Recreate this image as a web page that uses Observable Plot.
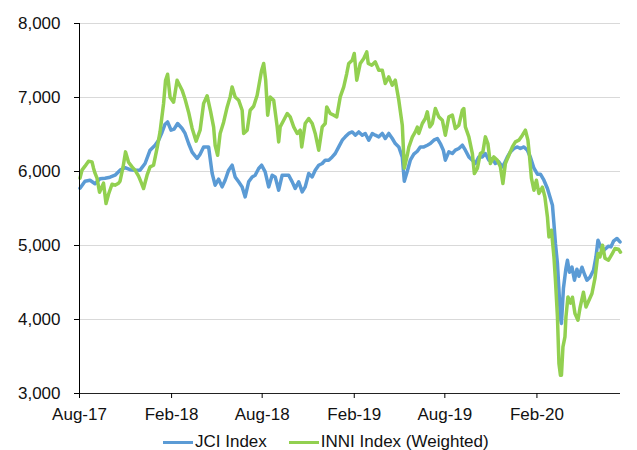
<!DOCTYPE html>
<html>
<head>
<meta charset="utf-8">
<script src="https://cdn.jsdelivr.net/npm/d3@7"></script>
<script src="https://cdn.jsdelivr.net/npm/@observablehq/plot@0.6"></script>
<style>
  html, body { margin: 0; padding: 0; background: #fff; }
  body { font-family: "Liberation Sans", Arial, sans-serif; }
  #wrap { position: relative; width: 637px; height: 450px; overflow: hidden; }
  #legend { position: absolute; left: 163px; top: 432px; height: 20px; display: flex; align-items: center;
            font-size: 17px; color: #111; white-space: nowrap; }
  .sw { display: inline-block; width: 30px; height: 3px; margin-right: 2px; }
  .item { display: flex; align-items: center; }
</style>
</head>
<body>
<div id="wrap">
  <div id="chart"></div>
  <div id="legend"></div>
</div>
<script>
// ---- Data ----
const seriesNames = ["JCI Index", "INNI Index (Weighted)"];
const seriesColors = ["#5B9BD5", "#92D050"];

const jciDates = ["2017-08-02","2017-08-12","2017-08-22","2017-09-01","2017-09-11","2017-09-21","2017-10-01","2017-10-11","2017-10-21","2017-10-31",
"2017-11-10","2017-11-20","2017-11-30","2017-12-10","2017-12-20","2017-12-30","2018-01-06","2018-01-13","2018-01-19","2018-01-24",
"2018-01-31","2018-02-06","2018-02-13","2018-02-22","2018-02-28","2018-03-07","2018-03-14","2018-03-24","2018-03-30","2018-04-06",
"2018-04-16","2018-04-23","2018-04-29","2018-05-06","2018-05-13","2018-05-19","2018-05-26","2018-06-02","2018-06-08","2018-06-15",
"2018-06-22","2018-06-28","2018-07-05","2018-07-12","2018-07-18","2018-07-25","2018-07-31","2018-08-07","2018-08-14","2018-08-21",
"2018-08-27","2018-09-03","2018-09-10","2018-09-16","2018-09-23","2018-09-30","2018-10-06","2018-10-13","2018-10-20","2018-10-26",
"2018-11-02","2018-11-09","2018-11-15","2018-11-22","2018-11-29","2018-12-05","2018-12-12","2018-12-19","2018-12-25","2019-01-01",
"2019-01-08","2019-01-14","2019-01-21","2019-01-28","2019-02-03","2019-02-10","2019-02-17","2019-02-23","2019-03-02","2019-03-09",
"2019-03-15","2019-03-22","2019-03-29","2019-04-04","2019-04-11","2019-04-18","2019-04-24","2019-05-01","2019-05-08","2019-05-12",
"2019-05-18","2019-05-24","2019-05-31","2019-06-07","2019-06-13","2019-06-20","2019-06-27","2019-07-03","2019-07-10","2019-07-17",
"2019-07-23","2019-07-29","2019-08-02","2019-08-09","2019-08-16","2019-08-22","2019-08-29","2019-09-05","2019-09-11","2019-09-18",
"2019-09-25","2019-10-01","2019-10-08","2019-10-15","2019-10-21","2019-10-28","2019-11-04","2019-11-10","2019-11-17","2019-11-24",
"2019-11-28","2019-12-04","2019-12-10","2019-12-17","2019-12-24","2019-12-30","2020-01-06","2020-01-13","2020-01-19","2020-01-26",
"2020-02-02","2020-02-08","2020-02-15","2020-02-22","2020-02-28","2020-03-03","2020-03-06","2020-03-09","2020-03-13","2020-03-16",
"2020-03-19","2020-03-21","2020-03-25","2020-03-30","2020-04-02","2020-04-06","2020-04-11","2020-04-16","2020-04-21","2020-04-25",
"2020-05-01","2020-05-06","2020-05-11","2020-05-17","2020-05-24","2020-05-29","2020-06-02","2020-06-06","2020-06-11","2020-06-16",
"2020-06-23","2020-06-28","2020-07-03","2020-07-10","2020-07-16"];

const jciValues = [5774,5869,5882,5835,5903,5910,5923,5950,6018,6051,
6024,6018,6018,6108,6288,6355,6423,6531,6639,6670,
6558,6572,6649,6581,6514,6378,6261,6176,6234,6332,
6332,5977,5815,5896,5792,5882,6018,6085,5927,5860,
5792,5657,5860,5927,5950,6041,6085,5995,5792,5950,
5927,5747,5950,5950,5950,5860,5770,5860,5724,5792,
5973,5927,6018,6085,6108,6153,6153,6197,6243,6332,
6423,6468,6514,6535,6491,6535,6491,6514,6423,6514,
6491,6468,6514,6446,6514,6446,6378,6332,6193,5869,
6004,6153,6234,6274,6332,6332,6355,6378,6423,6446,
6378,6288,6153,6265,6243,6288,6311,6355,6288,6197,
6153,6108,6197,6197,6243,6153,6176,6108,6130,6062,
6108,6197,6265,6311,6332,6311,6332,6288,6193,6045,
5964,5964,5882,5770,5635,5545,5297,5027,4757,4396,
4018,3946,4423,4693,4801,4639,4707,4531,4680,4585,
4707,4612,4531,4572,4666,4846,5072,5004,4910,4950,
4991,4981,5058,5095,5049];

const inniDates = ["2017-08-02","2017-08-06","2017-08-12","2017-08-19","2017-08-26","2017-08-29","2017-09-01","2017-09-05","2017-09-10","2017-09-18",
"2017-09-23","2017-09-28","2017-10-05","2017-10-11","2017-10-18","2017-10-21","2017-10-27","2017-11-01","2017-11-07","2017-11-14",
"2017-11-20","2017-11-27","2017-12-02","2017-12-07","2017-12-14","2017-12-20","2017-12-27","2018-01-03","2018-01-09","2018-01-16",
"2018-01-20","2018-01-24","2018-01-29","2018-02-05","2018-02-12","2018-02-22","2018-02-28","2018-03-07","2018-03-14","2018-03-22",
"2018-03-30","2018-04-06","2018-04-13","2018-04-20","2018-04-26","2018-04-29","2018-05-04","2018-05-09","2018-05-16","2018-05-23",
"2018-05-29","2018-06-02","2018-06-08","2018-06-15","2018-06-22","2018-06-25","2018-07-02","2018-07-08","2018-07-15","2018-07-22",
"2018-07-28","2018-07-31","2018-08-04","2018-08-08","2018-08-12","2018-08-17","2018-08-24","2018-08-31","2018-09-03","2018-09-06",
"2018-09-13","2018-09-20","2018-09-26","2018-10-03","2018-10-10","2018-10-16","2018-10-19","2018-10-26","2018-11-02","2018-11-09",
"2018-11-15","2018-11-22","2018-11-29","2018-12-05","2018-12-08","2018-12-15","2018-12-22","2018-12-28","2019-01-04","2019-01-11",
"2019-01-17","2019-01-21","2019-01-28","2019-02-01","2019-02-06","2019-02-13","2019-02-20","2019-02-26","2019-03-01","2019-03-08",
"2019-03-15","2019-03-22","2019-03-29","2019-04-04","2019-04-11","2019-04-18","2019-04-24","2019-05-01","2019-05-08","2019-05-12",
"2019-05-18","2019-05-21","2019-05-28","2019-06-03","2019-06-07","2019-06-10","2019-06-17","2019-06-23","2019-06-27","2019-07-02",
"2019-07-07","2019-07-13","2019-07-20","2019-07-27","2019-08-02","2019-08-09","2019-08-16","2019-08-22","2019-08-29","2019-09-05",
"2019-09-08","2019-09-11","2019-09-18","2019-09-25","2019-09-29","2019-10-05","2019-10-11","2019-10-16","2019-10-21","2019-10-26",
"2019-10-31","2019-11-07","2019-11-14","2019-11-20","2019-11-25","2019-11-30","2019-12-07","2019-12-14","2019-12-20","2019-12-27",
"2020-01-03","2020-01-09","2020-01-14","2020-01-17","2020-01-21","2020-01-26","2020-01-31","2020-02-05","2020-02-12","2020-02-17",
"2020-02-22","2020-02-25","2020-03-01","2020-03-06","2020-03-09","2020-03-13","2020-03-16","2020-03-19","2020-03-21","2020-03-24",
"2020-03-28","2020-03-30","2020-04-03","2020-04-08","2020-04-12","2020-04-17","2020-04-23","2020-04-27","2020-05-04","2020-05-09",
"2020-05-15","2020-05-21","2020-05-27","2020-06-02","2020-06-06","2020-06-11","2020-06-16","2020-06-23","2020-06-30","2020-07-06",
"2020-07-13","2020-07-17"];

const inniValues = [5910,6018,6072,6139,6130,6045,5977,5910,5720,5842,
5568,5693,5828,5815,5842,5869,6058,6265,6126,6062,
6018,5937,5856,5770,5950,6062,6085,6315,6538,6919,
7234,7315,7004,6937,7234,7099,6977,6801,6585,6410,
6558,6919,7024,6808,6599,6355,6220,6514,6666,6869,
7008,7143,7008,6964,6828,6514,6558,6828,6882,7031,
7261,7369,7460,7234,6761,7008,6964,6603,6400,6603,
6693,6784,6738,6603,6514,6558,6332,6649,6716,6649,
6514,6288,6603,6649,6873,6784,6761,6738,7008,7143,
7324,7460,7504,7595,7234,7460,7527,7616,7460,7437,
7481,7369,7369,7189,7278,7166,7234,6964,6626,6045,
6220,6328,6464,6535,6599,6514,6649,6716,6806,6603,
6649,6851,6738,6693,6491,6738,6761,6581,6626,6828,
6851,6603,6468,6243,5973,6041,6243,6265,6468,6378,
6108,6197,6153,6062,5838,6108,6220,6332,6400,6423,
6491,6558,6423,6220,5910,5747,5882,5703,5788,5653,
5386,5116,5207,4846,4531,4035,3405,3247,3247,3630,
3765,4035,4305,4220,4301,4081,3990,4153,4369,4170,
4261,4351,4558,4892,4846,5004,4828,4801,4882,4960,
4950,4910];

const yTicks = [3000, 4000, 5000, 6000, 7000, 8000];
const xTicks = ["2017-08-01","2018-02-01","2018-08-01","2019-02-01","2019-08-01","2020-02-01"];
const xDomain = ["2017-08-01","2020-07-17"];

// ---- Build tables ----
const parse = d3.utcParse("%Y-%m-%d");
const jci = jciDates.map((d, i) => ({date: parse(d), value: jciValues[i]}));
const inni = inniDates.map((d, i) => ({date: parse(d), value: inniValues[i]}));

const font = "'Liberation Sans', Arial, sans-serif";

const chart = Plot.plot({
  width: 637,
  height: 425,
  marginLeft: 79,
  marginRight: 17,
  marginTop: 23,
  marginBottom: 32,
  style: {fontFamily: font, fontSize: "17px", color: "#111", background: "#fff", overflow: "visible"},
  x: {type: "utc", domain: xDomain.map(parse)},
  y: {domain: [3000, 8000]},
  marks: [
    Plot.ruleY(yTicks.filter(d => d > 3000), {stroke: "#d9d9d9", strokeWidth: 1}),
    Plot.line(jci, {x: "date", y: "value", stroke: seriesColors[0], strokeWidth: 3.5, strokeLinejoin: "round"}),
    Plot.line(inni, {x: "date", y: "value", stroke: seriesColors[1], strokeWidth: 3.5, strokeLinejoin: "round"}),
    Plot.ruleX([parse(xDomain[0])], {stroke: "#000", strokeWidth: 1}),
    Plot.ruleY([3000], {stroke: "#222", strokeWidth: 1}),
    Plot.axisY(yTicks, {tickSize: 5, tickPadding: 14, tickFormat: d3.format(","), fontSize: 17, label: null, stroke: "#000", fill: "#111"}),
    Plot.axisX(xTicks.map(parse), {tickSize: 5, tickPadding: 9, tickFormat: d3.utcFormat("%b-%y"), fontSize: 17, label: null, stroke: "#000", fill: "#111"})
  ]
});
document.getElementById("chart").appendChild(chart);

// ---- Legend ----
const legend = document.getElementById("legend");
seriesNames.forEach((name, i) => {
  const item = document.createElement("span");
  item.className = "item";
  item.style.marginRight = i === 0 ? "22px" : "0";
  const sw = document.createElement("span");
  sw.className = "sw";
  sw.style.background = seriesColors[i];
  const tx = document.createElement("span");
  tx.textContent = name;
  item.appendChild(sw);
  item.appendChild(tx);
  legend.appendChild(item);
});
</script>
</body>
</html>
